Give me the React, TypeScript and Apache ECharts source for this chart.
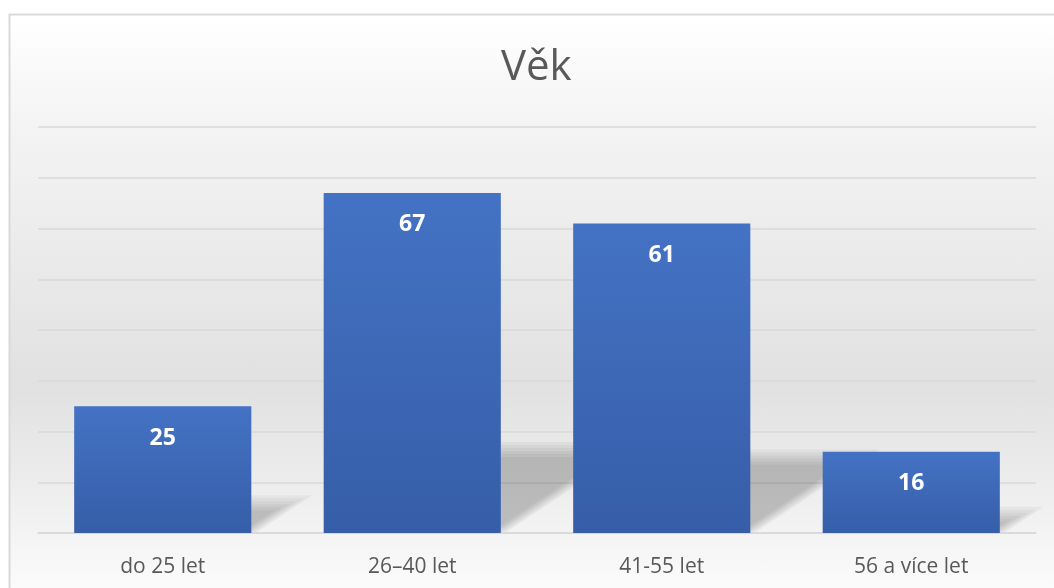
import React, { useEffect, useRef } from "react";
import * as echarts from "echarts";

const categories = ["do 25 let", "26–40 let", "41-55 let", "56 a více let"];
const values = [25, 67, 61, 16];
const titleText = "Věk";

export default function App() {
  const ref = useRef<HTMLDivElement>(null);
  useEffect(() => {
    if (!ref.current) return;
    const chart = echarts.init(ref.current, undefined, { renderer: "svg" });
    const barRatio = 0.71;
    chart.setOption({
      animation: false,
      title: {
        text: titleText,
        left: 501,
        top: 42,
        padding: 0,
        textStyle: { fontFamily: "Open Sans", fontSize: 42, fontWeight: "normal", color: "#595959" },
      },
      graphic: [
        {
          type: "rect",
          z: -100,
          shape: { x: 9.5, y: 14.5, width: 1060, height: 600 },
          style: {
            stroke: "#d9d9d9",
            lineWidth: 2,
            fill: new echarts.graphic.LinearGradient(0, 0, 0, 1, [
              { offset: 0, color: "#ffffff" },
              { offset: 0.2, color: "#f3f3f3" },
              { offset: 0.62, color: "#e1e1e1" },
              { offset: 0.8, color: "#eeeeee" },
              { offset: 1, color: "#ffffff" },
            ]),
          },
        },
      ],
      grid: { left: 38, right: 18, top: 127, bottom: 55 },
      xAxis: {
        type: "category",
        data: categories,
        axisTick: { show: false },
        axisLine: { lineStyle: { color: "#d9d9d9", width: 1.5 } },
        axisLabel: { margin: 21, fontFamily: "Open Sans", fontSize: 21, color: "#595959" },
      },
      yAxis: {
        type: "value",
        min: 0,
        max: 80,
        interval: 10,
        axisLabel: { show: false },
        axisLine: { show: false },
        axisTick: { show: false },
        splitLine: { lineStyle: { color: "#d9d9d9", width: 1.5 } },
      },
      series: [
        {
          type: "custom",
          z: 1,
          silent: true,
          data: values.map((v, i) => [i, v]),
          renderItem: (params: any, api: any) => {
            const base = api.coord([api.value(0), 0]);
            const top = api.coord([api.value(0), api.value(1)]);
            const w = api.size([1, 0])[0] * barRatio;
            const h = base[1] - top[1];
            const dy = h * 0.25;
            const dx = dy * 1.5;
            const l = base[0] - w / 2;
            const r = base[0] + w / 2;
            const layers = [-6, -3, 0, 3, 6, 9];
            const children = layers.map((k) => {
              const b = base[1] - 1;
              const t = base[1] - dy + k;
              const fr = (b - t) / dy;
              return {
                type: "polygon",
                shape: {
                  points: [
                    [l, b],
                    [r - k, b],
                    [r - k + dx * fr, t],
                    [l + dx * fr, t],
                  ],
                },
                style: { fill: "rgba(0,0,0,0.04)" },
              };
            });
            return { type: "group", children };
          },
        },
        {
          type: "bar",
          z: 2,
          data: values,
          barCategoryGap: "29%",
          itemStyle: {
            color: new echarts.graphic.LinearGradient(0, 0, 0, 1, [
              { offset: 0, color: "#4472c4" },
              { offset: 1, color: "#365ea8" },
            ]),
          },
          label: {
            show: true,
            position: "insideTop",
            distance: 18,
            fontFamily: "Open Sans",
            fontSize: 23,
            fontWeight: "bold",
            color: "#ffffff",
          },
        },
      ],
    });
    return () => chart.dispose();
  }, []);
  return <div ref={ref} style={{ position: "fixed", left: 0, top: 0, width: 1054, height: 588 }} />;
}
